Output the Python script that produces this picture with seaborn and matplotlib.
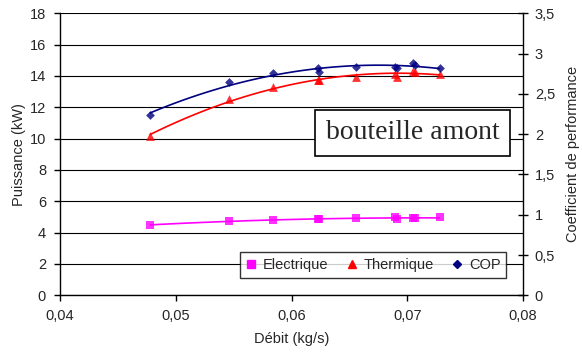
import numpy as np
import pandas as pd
import matplotlib
matplotlib.use("Agg")
import matplotlib.pyplot as plt
from matplotlib.lines import Line2D
import seaborn as sns

# ---- data ----
debit = [0.0478, 0.0546, 0.0584, 0.0623, 0.0624, 0.0656, 0.0689, 0.0691, 0.0705, 0.0707, 0.0728]
electrique = [4.49, 4.72, 4.81, 4.90, 4.89, 4.91, 4.98, 4.85, 4.93, 4.94, 4.98]
thermique = [10.17, 12.53, 13.27, 13.72, 13.76, 13.95, 14.10, 13.95, 14.31, 14.27, 14.12]
cop = [2.241, 2.647, 2.755, 2.817, 2.775, 2.833, 2.833, 2.817, 2.883, 2.862, 2.817]

x_ticks = [0.04, 0.05, 0.06, 0.07, 0.08]
x_labels = ["0,04", "0,05", "0,06", "0,07", "0,08"]
yl_ticks = [0, 2, 4, 6, 8, 10, 12, 14, 16, 18]
yr_ticks = [0, 0.5, 1, 1.5, 2, 2.5, 3, 3.5]
yr_labels = ["0", "0,5", "1", "1,5", "2", "2,5", "3", "3,5"]
series_names = ["Electrique", "Thermique", "COP"]

df = pd.DataFrame({"debit": debit, "Electrique": electrique,
                   "Thermique": thermique, "COP": cop})

sns.set_style("white")
plt.rcParams["font.family"] = ["Liberation Sans", "DejaVu Sans"]

fig = plt.figure(figsize=(5.82, 3.63), dpi=100)
ax = fig.add_axes([60/582, 1-295.3/363, 463/582, 282/363])
ax2 = ax.twinx()

c_el, c_th, c_cop = "#FF00FF", "#FF0000", "#000080"

sns.regplot(data=df, x="debit", y="Electrique", order=2, ci=None, ax=ax,
            color=c_el, marker="s",
            scatter_kws=dict(s=30, linewidths=0, zorder=4),
            line_kws=dict(lw=1.2, zorder=3))
sns.regplot(data=df, x="debit", y="Thermique", order=2, ci=None, ax=ax,
            color=c_th, marker="^",
            scatter_kws=dict(s=40, linewidths=0, zorder=4),
            line_kws=dict(lw=1.2, zorder=3))
sns.regplot(data=df, x="debit", y="COP", order=2, ci=None, ax=ax2,
            color=c_cop, marker="D",
            scatter_kws=dict(s=20, linewidths=0, zorder=4),
            line_kws=dict(lw=1.2, zorder=3))

ax.set_xlim(0.04, 0.08)
ax.set_ylim(0, 18)
ax2.set_ylim(0, 3.5)

ax.set_xticks(x_ticks)
ax.set_xticklabels(x_labels)
ax.set_yticks(yl_ticks)
ax.set_yticklabels([str(v) for v in yl_ticks])
ax2.set_yticks(yr_ticks)
ax2.set_yticklabels(yr_labels)

for a in (ax, ax2):
    for s in a.spines.values():
        s.set_visible(False)
ax.spines["left"].set_visible(True)
ax.spines["bottom"].set_visible(True)
ax2.spines["right"].set_visible(True)
for s in (ax.spines["left"], ax.spines["bottom"], ax2.spines["right"]):
    s.set_color("black")
    s.set_linewidth(1.0)

ax.yaxis.grid(True, color="black", lw=0.8)
ax.set_axisbelow(True)

ax.tick_params(axis="both", direction="out", length=4, width=1, color="black",
               labelsize=10.5, pad=6, left=True, bottom=True)
ax2.tick_params(axis="y", direction="inout", length=7, width=1, color="black",
                labelsize=10.5, pad=5, right=True)

ax.set_xlabel("Débit (kg/s)", fontsize=10.5, labelpad=6)
ax.set_ylabel("Puissance (kW)", fontsize=10.5, labelpad=3)
ax2.set_ylabel("Coefficient de performance", fontsize=10.5, labelpad=8)

ax.text(0.762, 0.577, "bouteille amont", transform=ax.transAxes,
        ha="center", va="center", fontsize=20, family="Liberation Serif",
        bbox=dict(boxstyle="square,pad=0.38", fc="white", ec="black", lw=1.2),
        zorder=10)

handles = [Line2D([], [], ls="none", marker="s", color=c_el, ms=6),
           Line2D([], [], ls="none", marker="^", color=c_th, ms=6),
           Line2D([], [], ls="none", marker="D", color=c_cop, ms=4.5)]
leg = ax2.legend(handles, series_names, loc="center",
                 bbox_to_anchor=(0.676, 0.107), ncol=3, frameon=True,
                 fancybox=False, edgecolor="black", fontsize=10.5,
                 handlelength=0.8, handletextpad=0.4, columnspacing=1.2,
                 borderpad=0.4)
leg.get_frame().set_linewidth(1.0)
leg.set_zorder(10)

fig.savefig("out.png", dpi=100)
